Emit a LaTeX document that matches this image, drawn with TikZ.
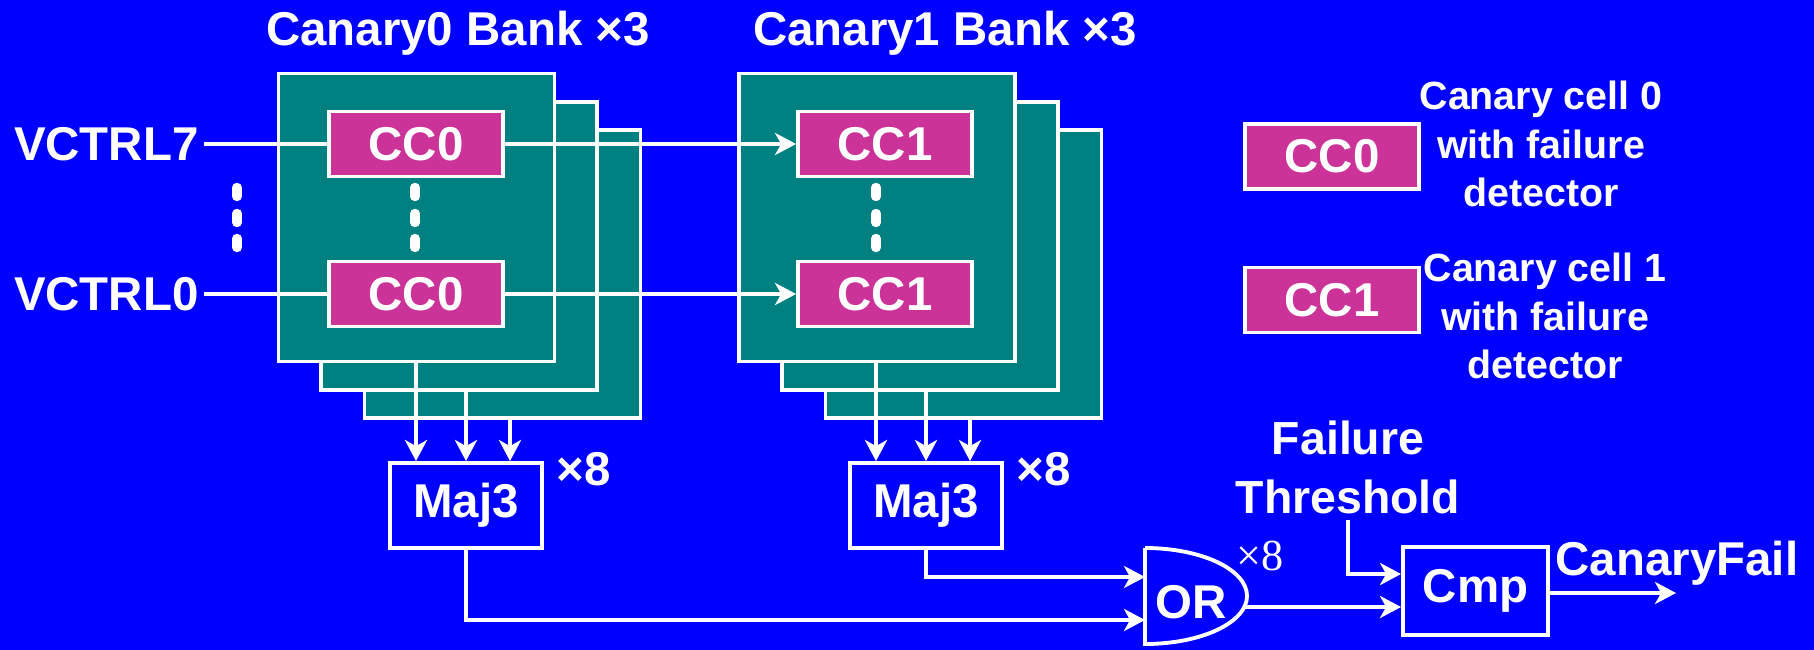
\documentclass[tikz,border=0pt]{standalone}
\usepackage{fontspec}
\setmainfont{Liberation Sans}
\newfontfamily\serifx{Liberation Serif}
\usetikzlibrary{arrows.meta}
\definecolor{bgblue}{RGB}{0,0,255}
\definecolor{bankteal}{RGB}{0,128,128}
\definecolor{cellpink}{RGB}{204,51,153}

\begin{document}
\begin{tikzpicture}[line width=1.1pt,white,>={Stealth[length=2.1mm,width=2.2mm,inset=0.6mm]},
  txt/.style={text=white,font=\fontsize{13.5}{16}\selectfont\bfseries,inner sep=1pt},
  bank/.style={draw=white,fill=bankteal,minimum width=2.76cm,minimum height=2.88cm,inner sep=0pt},
  cell/.style={txt,draw=white,fill=cellpink,minimum width=1.74cm,minimum height=0.65cm,inner sep=0pt},
  blk/.style={txt,draw=white,minimum width=1.52cm,minimum height=0.85cm,inner sep=0pt},
  note/.style={text=white,font=\fontsize{11.2}{13.7}\selectfont\bfseries,align=center,inner sep=0pt}]
\fill[bgblue] (0,0) rectangle (18.14,-6.5);
\useasboundingbox (0,0) rectangle (18.14,-6.5);
% titles
\node[txt] (t0) at (4.58,-0.33) {Canary0 Bank ×3};
\node[txt] (t1) at (9.45,-0.33) {Canary1 Bank ×3};
% banks, back to front
\node[bank] (b0c) at (5.025,-2.74) {};
\node[bank] (b0b) at (4.59,-2.46) {};
\node[bank] (b0a) at (4.165,-2.175) {};
\node[bank] (b1c) at (9.635,-2.74) {};
\node[bank] (b1b) at (9.20,-2.46) {};
\node[bank] (b1a) at (8.77,-2.175) {};
% canary cells
\node[cell] (c07) at (4.16,-1.44) {CC0};
\node[cell] (c00) at (4.16,-2.94) {CC0};
\node[cell] (c17) at (8.85,-1.44) {CC1};
\node[cell] (c10) at (8.85,-2.94) {CC1};
\node[txt,anchor=east] (v7) at (2.04,-1.44) {VCTRL7};
\node[txt,anchor=east] (v0) at (2.04,-2.94) {VCTRL0};
\draw (v7.east) -- (c07.west);
\draw (v0.east) -- (c00.west);
\draw[->] (c07.east) -- (c17.west);
\draw[->] (c00.east) -- (c10.west);
\foreach \x in {2.37,4.15,8.76}
  \foreach \y in {1.92,2.18,2.43}
    \draw[line width=2.7pt,line cap=round] (\x,-\y+0.045) -- (\x,-\y-0.045);
% majority voters
\node[blk] (m0) at (4.66,-5.055) {Maj3};
\node[blk] (m1) at (9.26,-5.055) {Maj3};
\node[txt] (n0) at (5.84,-4.69) {×8};
\node[txt] (n1) at (10.44,-4.69) {×8};
\foreach \x/\b in {4.16/b0a,4.66/b0b,5.10/b0c}
  \draw[->] (\x,0 |- \b.south) -- (\x,0 |- m0.north);
\foreach \x/\b in {8.76/b1a,9.26/b1b,9.70/b1c}
  \draw[->] (\x,0 |- \b.south) -- (\x,0 |- m1.north);
% OR gate
\draw (11.45,-5.48) -- (11.45,-6.44) arc[start angle=-90,end angle=90,x radius=1.02,y radius=0.48] -- cycle;
\node[txt] (orl) at (11.91,-6.02) {OR};
\node[text=white,font=\serifx\fontsize{12.6}{15}\selectfont,inner sep=0pt] (n2) at (12.60,-5.56) {×8};
\coordinate (orin0) at (11.45,-6.20);
\coordinate (orin1) at (11.45,-5.77);
\coordinate (orout) at (12.44,-6.07);
\draw[->] (m0.south) |- (orin0);
\draw[->] (m1.south) |- (orin1);
% compare
\node[blk,minimum width=1.45cm,minimum height=0.88cm] (cmp) at (14.755,-5.91) {Cmp};
\node[txt,align=center,font=\fontsize{13.2}{16.8}\selectfont\bfseries] (thr) at (13.48,-4.675) {Failure\\Threshold};
\coordinate (cmpin1) at (cmp.west |- 0,-5.74);
\coordinate (cmpin0) at (cmp.west |- 0,-6.07);
\draw[->] (thr.south) |- (cmpin1);
\draw[->] (orout) -- (cmpin0);
\node[txt] (cf) at (16.77,-5.63) {CanaryFail};
\coordinate (cfend) at (16.76,-5.93);
\draw[->] (cmp.east |- cfend) -- (cfend);
% legend
\node[cell] (l0) at (13.32,-1.565) {CC0};
\node[cell] (l1) at (13.32,-3.00) {CC1};
\node[note] (l0t) at (15.41,-1.44) {Canary cell 0\\with failure\\detector};
\node[note] (l1t) at (15.45,-3.16) {Canary cell 1\\with failure\\detector};
\end{tikzpicture}
\end{document}
